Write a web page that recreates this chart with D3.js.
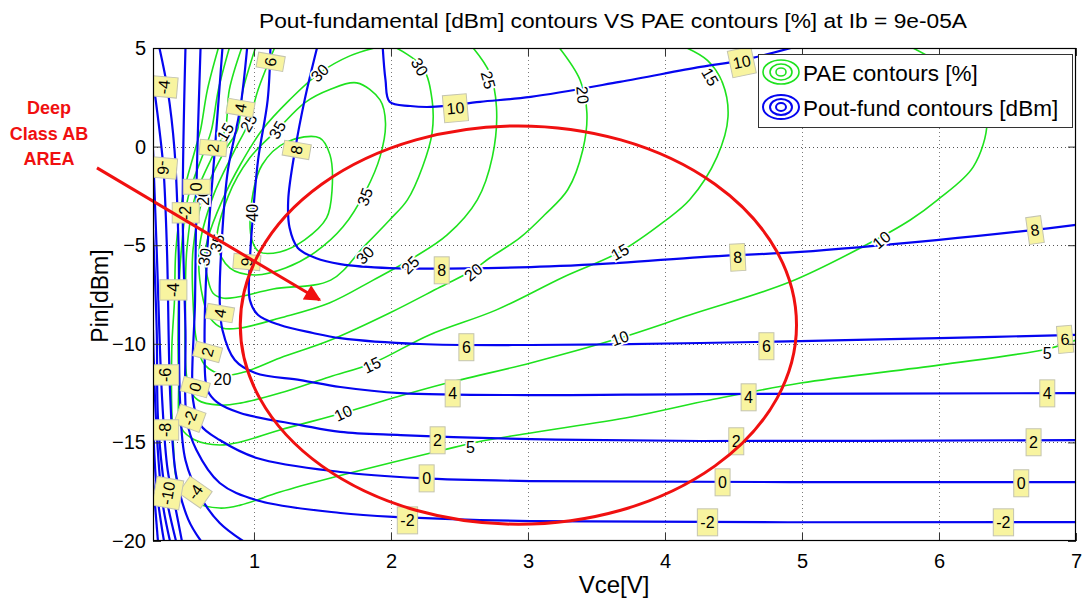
<!DOCTYPE html>
<html><head><meta charset="utf-8">
<script src="https://cdn.jsdelivr.net/npm/d3@7"></script>
<style>
body{margin:0;background:#fff}
text{font-family:"Liberation Sans",Arial,Helvetica,sans-serif}
</style>
</head><body>
<svg id="chart" width="1084" height="604"></svg>
<script>
// ---------- axes / ticks ----------
const xDomain=[0.263,7];
const yDomain=[-20,5];
const xTicks=[1,2,3,4,5,6,7];
const yTicks=[-20,-15,-10,-5,0,5];
const titleText="Pout-fundamental [dBm] contours VS PAE contours [%] at Ib = 9e-05A";
const xLabel="Vce[V]";
const yLabel="Pin[dBm]";
const legendItems=["PAE contours [%]","Pout-fund contours [dBm]"];

// ---------- Pout-fundamental contours [dBm]  (Vce, Pin) ----------
const pout10=[[1.94,5.0],[1.96,3.38],[1.99,2.27],[2.14,2.06],[2.29,2.01],[2.65,2.27],[3.02,2.52],[3.67,3.28],[4.26,4.04],[4.56,4.37],[4.92,5.0]];
const pout8=[[1.46,5.0],[1.37,2.37],[1.30,-0.17],[1.25,-2.70],[1.26,-4.12],[1.32,-5.14],[1.45,-5.65],[1.63,-5.96],[1.99,-6.16],[3.02,-6.11],[3.67,-5.90],[4.26,-5.60],[4.99,-5.34],[6.0,-4.73],[6.70,-4.22],[7.0,-3.97]];
const pout6=[[1.12,5.0],[1.10,2.37],[1.03,-0.67],[0.99,-3.72],[0.97,-5.85],[0.97,-7.78],[1.03,-8.54],[1.19,-9.05],[1.43,-9.45],[1.63,-9.71],[2.21,-10.01],[3.02,-10.06],[4.26,-9.96],[4.99,-9.86],[6.0,-9.71],[7.0,-9.55]];
const pout4=[[0.95,5.0],[0.90,1.96],[0.81,-1.18],[0.77,-4.22],[0.75,-7.78],[0.77,-9.30],[0.86,-10.82],[1.01,-11.48],[1.34,-11.84],[1.63,-12.19],[2.07,-12.50],[3.02,-12.60],[4.26,-12.55],[7.0,-12.50]];
const pout2=[[0.77,5.0],[0.72,0.34],[0.66,-5.24],[0.64,-10.30],[0.66,-12.34],[0.73,-12.96],[0.90,-13.51],[1.34,-14.12],[1.63,-14.47],[2.07,-14.63],[3.02,-14.83],[4.26,-14.93],[7.0,-14.88]];
const pout0=[[0.61,5.0],[0.58,-2.04],[0.57,-7.78],[0.555,-12.85],[0.61,-14.12],[0.75,-14.88],[1.02,-15.79],[1.63,-16.50],[2.21,-16.81],[3.02,-16.96],[7.0,-17.01]];
const poutM2=[[0.50,5.0],[0.48,-3.36],[0.50,-9.30],[0.51,-13.87],[0.58,-15.39],[0.75,-17.06],[1.02,-17.93],[1.63,-18.58],[2.07,-18.79],[3.02,-18.99],[7.0,-19.04]];
const poutM4=[[0.31,5.0],[0.37,2.88],[0.42,-0.17],[0.45,-5.24],[0.46,-12.85],[0.50,-15.90],[0.61,-17.77],[0.75,-19.09],[0.92,-20.0]];
const poutM6=[[0.263,3.38],[0.31,0.85],[0.34,-1.18],[0.365,-5.24],[0.39,-12.85],[0.43,-16.6],[0.52,-18.9],[0.613,-20.0]];
const poutM8=[[0.263,-0.17],[0.29,-5.24],[0.33,-12.85],[0.37,-16.4],[0.43,-18.43],[0.474,-20.0]];
const poutM10=[[0.263,-4.22],[0.29,-9.3],[0.30,-13.87],[0.35,-17.4],[0.431,-20.0]];
const poutM12=[[0.263,-9.3],[0.285,-13.87],[0.33,-17.93],[0.387,-20.0]];
const poutM14=[[0.263,-13.87],[0.29,-17.4],[0.343,-20.0]];
const poutM16=[[0.263,-16.9],[0.299,-20.0]];

// ---------- PAE contours [%]  (Vce, Pin) ----------
const pae5=[[7.0,-9.81],[6.79,-10.26],[6.01,-11.07],[4.99,-11.99],[4.33,-12.85],[3.75,-13.71],[3.02,-14.52],[2.63,-14.98],[2.38,-15.39],[1.56,-16.81],[1.19,-17.52],[0.90,-18.18],[0.75,-18.33],[0.57,-18.03],[0.45,-17.16],[0.41,-14.88],[0.40,-10.30],[0.42,-7.78],[0.43,-5.24],[0.48,-2.55],[0.57,-0.17],[0.61,0.85],[0.66,2.88],[0.74,5.0]];
const pae10=[[5.81,5.0],[6.08,3.89],[6.30,2.37],[6.35,1.20],[6.25,-1.03],[5.99,-2.70],[5.79,-3.72],[5.47,-4.98],[4.91,-6.87],[4.18,-8.54],[3.67,-9.71],[3.02,-10.97],[2.41,-11.99],[2.04,-12.70],[1.65,-13.51],[1.19,-14.37],[0.90,-14.98],[0.75,-15.13],[0.57,-14.88],[0.47,-14.27],[0.45,-11.84],[0.45,-7.78],[0.47,-5.24],[0.52,-2.55],[0.64,-0.17],[0.69,0.85],[0.74,2.88],[0.82,5.0]];
const pae15=[[4.16,5.0],[4.31,4.37],[4.42,3.23],[4.46,1.51],[4.38,-0.52],[4.18,-2.70],[3.99,-3.82],[3.67,-5.34],[3.26,-6.61],[2.77,-8.28],[2.28,-9.55],[1.87,-10.97],[1.55,-11.68],[1.19,-12.50],[0.90,-13.01],[0.75,-13.11],[0.59,-12.85],[0.52,-12.09],[0.50,-7.78],[0.51,-5.24],[0.57,-2.55],[0.72,-0.17],[0.79,0.85],[0.82,2.88],[0.91,5.0]];
const pae20=[[3.23,5.0],[3.38,3.38],[3.43,1.71],[3.40,-0.17],[3.29,-2.19],[3.12,-3.47],[2.94,-4.63],[2.72,-5.65],[2.60,-6.26],[2.36,-7.12],[1.99,-8.44],[1.56,-9.81],[1.19,-10.72],[0.93,-11.43],[0.79,-11.58],[0.64,-11.07],[0.58,-9.81],[0.555,-7.78],[0.555,-5.24],[0.63,-2.55],[0.79,-0.17],[0.88,0.85],[0.92,2.88],[1.01,5.0]];
const pae25=[[2.60,5.0],[2.72,3.74],[2.77,2.01],[2.74,-0.52],[2.63,-2.70],[2.41,-4.48],[2.16,-5.65],[1.87,-6.77],[1.55,-7.93],[1.19,-8.69],[0.90,-9.20],[0.77,-9.20],[0.68,-8.69],[0.63,-7.78],[0.60,-5.24],[0.70,-2.55],[0.86,-0.17],[0.96,1.20],[1.03,2.88],[1.15,5.0]];
const pae30=[[1.88,5.0],[1.70,4.60],[1.48,3.74],[1.26,2.37],[1.06,0.85],[0.90,-0.92],[0.77,-2.70],[0.66,-4.73],[0.64,-5.60],[0.66,-6.61],[0.70,-7.42],[0.77,-7.68],[0.88,-7.63],[1.14,-7.22],[1.56,-6.77],[1.80,-5.09],[1.99,-3.72],[2.12,-2.70],[2.23,-1.03],[2.30,0.70],[2.30,2.37],[2.23,4.04],[2.04,5.0]];
const pae35=[[0.73,-4.89],[0.81,-2.55],[0.97,-0.57],[1.17,0.85],[1.37,2.22],[1.55,2.88],[1.75,3.23],[1.92,2.37],[1.96,1.20],[1.92,-0.52],[1.82,-2.19],[1.65,-4.07],[1.45,-5.34],[1.23,-6.16],[1.01,-6.51],[0.825,-6.16]];
const pae40=[[0.985,-4.73],[0.985,-2.70],[1.06,-0.92],[1.24,0.24],[1.48,0.44],[1.555,-0.42],[1.57,-2.19],[1.53,-3.62],[1.37,-4.73],[1.19,-5.34],[1.04,-5.34]];

// contour labels: [Vce, Pin, text, angle]
const poutLabels=[
[2.47,1.96,"10",-5],[4.56,4.30,"10",-12],
[2.37,-6.26,"8",0],[4.53,-5.60,"8",-3],[6.70,-4.22,"8",-8],[1.31,-0.17,"8",-80],
[2.55,-10.16,"6",0],[4.74,-10.11,"6",0],[6.92,-9.76,"6",-5],[1.12,4.30,"6",-80],[0.95,-5.85,"6",95],
[2.45,-12.50,"4",0],[4.61,-12.70,"4",0],[6.79,-12.50,"4",0],[0.90,1.96,"4",-80],[0.75,-8.44,"4",-80],
[2.34,-14.88,"2",0],[4.52,-14.93,"2",0],[6.69,-14.98,"2",0],[0.70,-0.07,"2",-85],[0.66,-10.41,"2",-75],
[2.26,-16.81,"0",0],[4.42,-17.01,"0",0],[6.60,-17.06,"0",0],[0.58,-2.04,"0",-90],[0.57,-12.19,"0",-75],
[2.12,-18.94,"-2",0],[4.31,-19.04,"-2",0],[6.47,-19.04,"-2",0],[0.50,-3.36,"-2",-90],[0.53,-13.77,"-2",-70],
[0.34,3.03,"-4",-85],[0.41,-7.27,"-4",-90],[0.57,-17.52,"-4",-55],
[0.34,-1.08,"-6",95],[0.35,-11.58,"-6",-90],[0.35,-14.37,"-8",-90],[0.37,-17.57,"-10",-80]
];
const paeLabels=[
[2.21,4.04,"30",60],[2.71,3.38,"25",75],[3.40,2.62,"20",85],[4.33,3.54,"15",60],
[1.81,-2.55,"35",-70],[1.81,-5.50,"30",-45],[2.14,-6.00,"25",-45],[2.60,-6.36,"20",-40],[3.67,-5.34,"15",-30],[5.58,-4.73,"10",-40],
[1.86,-11.07,"15",-25],[1.65,-13.51,"10",-25],[3.67,-9.71,"10",-20],[2.58,-15.24,"5",0],[6.79,-10.47,"5",0],
[0.77,-11.79,"20",0],[0.99,-3.36,"40",-90],[1.17,0.85,"35",-60],[0.96,1.20,"25",-60],[0.79,0.75,"15",-60],
[1.48,3.74,"30",-45],[0.73,-4.89,"35",-75],[0.64,-5.60,"30",-80],[0.63,-2.55,"20",-90]
];

// annotation (data units)
const areaCenter=[2.93,-9.05];
const areaRadii=[2.03,10.1];
const arrowFrom=[-0.146,-1.08];
const arrowTo=[1.48,-7.78];
const annotationLines=["Deep","Class AB","AREA"];

const poutOpen=[pout10,pout8,pout6,pout4,pout2,pout0,poutM2,poutM4,poutM6,poutM8,poutM10,poutM12,poutM14,poutM16];
const paeOpen=[pae5,pae10,pae15,pae20,pae25,pae30];
const paeClosed=[pae35,pae40];

// ---------- drawing ----------
const W=1084,H=604,L=153,R=1076,T=48,B=541;
const BLUE="#0505f0",GREEN="#1ee21e",RED="#f01010";
const svg=d3.select("#chart");
const x=d3.scaleLinear().domain(xDomain).range([L,R]);
const y=d3.scaleLinear().domain(yDomain).range([B,T]);

svg.append("rect").attr("width",W).attr("height",H).attr("fill","#fff");
const defs=svg.append("defs");
defs.append("clipPath").attr("id","clip").append("rect").attr("x",L).attr("y",T).attr("width",R-L).attr("height",B-T);
defs.append("marker").attr("id","arrow").attr("viewBox","0 0 10 10").attr("refX",9).attr("refY",5)
  .attr("markerWidth",7).attr("markerHeight",5.5).attr("orient","auto").attr("markerUnits","strokeWidth")
  .append("path").attr("d","M0,0 L10,5 L0,10 z").attr("fill",RED);

// grid
const grid=svg.append("g").attr("shape-rendering","crispEdges");
grid.selectAll("line.gx").data(xTicks.filter(v=>v<xDomain[1])).join("line").attr("class","gx")
  .attr("x1",d=>Math.round(x(d))+0.5).attr("x2",d=>Math.round(x(d))+0.5).attr("y1",T).attr("y2",B)
  .attr("stroke","#7a7a7a").attr("stroke-dasharray","1,3");
grid.selectAll("line.gy").data(yTicks.filter(v=>v>yDomain[0]&&v<yDomain[1])).join("line").attr("class","gy")
  .attr("y1",d=>Math.round(y(d))+0.5).attr("y2",d=>Math.round(y(d))+0.5).attr("x1",L).attr("x2",R)
  .attr("stroke","#555").attr("stroke-dasharray","1,3");

const plot=svg.append("g").attr("clip-path","url(#clip)");
const line=d3.line().x(d=>x(d[0])).y(d=>y(d[1])).curve(d3.curveCatmullRom.alpha(0.5));
const lineC=d3.line().x(d=>x(d[0])).y(d=>y(d[1])).curve(d3.curveCatmullRomClosed.alpha(0.5));

plot.selectAll("path.pae").data(paeOpen).join("path").attr("class","pae").attr("d",line)
  .attr("fill","none").attr("stroke",GREEN).attr("stroke-width",1.6);
plot.selectAll("path.paec").data(paeClosed).join("path").attr("class","paec").attr("d",lineC)
  .attr("fill","none").attr("stroke",GREEN).attr("stroke-width",1.6);
plot.selectAll("path.pout").data(poutOpen).join("path").attr("class","pout").attr("d",line)
  .attr("fill","none").attr("stroke",BLUE).attr("stroke-width",2.2);

// PAE inline labels
plot.selectAll("text.pl").data(paeLabels).join("text").attr("class","pl")
  .attr("transform",d=>`translate(${x(d[0])},${y(d[1])}) rotate(${d[3]})`)
  .attr("text-anchor","middle").attr("dy","0.36em").attr("font-size",16)
  .attr("paint-order","stroke").attr("stroke","#fff").attr("stroke-width",3.5).attr("fill","#000")
  .text(d=>d[2]);

// Pout boxed labels
poutLabels.forEach(d=>{
  const g=plot.append("g").attr("transform",`translate(${x(d[0])},${y(d[1])}) rotate(${d[3]})`);
  const t=g.append("text").attr("text-anchor","middle").attr("dy","0.36em").attr("font-size",16).attr("fill","#000").text(d[2]);
  const bb=t.node().getBBox();
  g.insert("rect","text").attr("x",bb.x-3).attr("y",bb.y-5).attr("width",bb.width+6).attr("height",bb.height+10)
    .attr("fill","#f8f4a0").attr("stroke","#c4c4b0").attr("stroke-width",1);
});

// red annotation
svg.append("ellipse").attr("cx",x(areaCenter[0])).attr("cy",y(areaCenter[1]))
  .attr("rx",x(areaCenter[0]+areaRadii[0])-x(areaCenter[0]))
  .attr("ry",y(areaCenter[1])-y(areaCenter[1]+areaRadii[1]))
  .attr("fill","none").attr("stroke",RED).attr("stroke-width",3);
svg.append("line").attr("x1",x(arrowFrom[0])).attr("y1",y(arrowFrom[1])).attr("x2",x(arrowTo[0])).attr("y2",y(arrowTo[1]))
  .attr("stroke",RED).attr("stroke-width",3).attr("marker-end","url(#arrow)");
svg.append("g").selectAll("text").data(annotationLines).join("text")
  .attr("x",49).attr("y",(d,i)=>114+i*25.5).attr("text-anchor","middle")
  .attr("font-size",18).attr("font-weight","bold").attr("fill",RED).text(d=>d);

// axes (ticks inside)
function styleAxis(g){
  g.select(".domain").remove();
  g.selectAll(".tick line").attr("stroke","#333");
  g.selectAll(".tick text").attr("font-size",20).attr("fill","#000").attr("font-family",'"Liberation Sans",Arial,sans-serif');
}
svg.append("g").attr("transform",`translate(0,${B})`)
  .call(d3.axisBottom(x).tickValues(xTicks).tickSize(-8).tickPadding(13).tickFormat(d3.format("d"))).call(styleAxis);
svg.append("g").attr("transform",`translate(0,${T})`)
  .call(d3.axisTop(x).tickValues(xTicks).tickSize(-8).tickFormat("")).call(styleAxis);
svg.append("g").attr("transform",`translate(${L},0)`)
  .call(d3.axisLeft(y).tickValues(yTicks).tickSize(-8).tickPadding(7).tickFormat(d3.format("d"))).call(styleAxis);
svg.append("g").attr("transform",`translate(${R},0)`)
  .call(d3.axisRight(y).tickValues(yTicks).tickSize(-8).tickFormat("")).call(styleAxis);
svg.append("rect").attr("x",L+0.5).attr("y",T+0.5).attr("width",R-L-1).attr("height",B-T-1)
  .attr("fill","none").attr("stroke","#000").attr("stroke-width",1.2);

// legend
const lg=svg.append("g");
lg.append("rect").attr("x",758.5).attr("y",54.5).attr("width",314).attr("height",73)
  .attr("fill","#fff").attr("stroke","#333").attr("stroke-width",1);
[GREEN,BLUE].forEach((c,i)=>{
  const cy=72+i*35;
  [[18,12],[11,8],[5,4]].forEach(r=>{
    lg.append("ellipse").attr("cx",781).attr("cy",cy).attr("rx",r[0]).attr("ry",r[1])
      .attr("fill","none").attr("stroke",c).attr("stroke-width",i?2:1.6);
  });
  lg.append("text").attr("x",803).attr("y",cy+8.5).attr("font-size",22.5).attr("fill","#000").text(legendItems[i]);
});

// titles
svg.append("text").attr("x",613).attr("y",28).attr("text-anchor","middle").attr("font-size",20.5)
  .attr("textLength",708).attr("lengthAdjust","spacingAndGlyphs").attr("fill","#000").text(titleText);
svg.append("text").attr("x",614).attr("y",593).attr("text-anchor","middle").attr("font-size",24).attr("fill","#000").text(xLabel);
svg.append("text").attr("transform","translate(108,296) rotate(-90)").attr("text-anchor","middle").attr("font-size",23).attr("fill","#000").text(yLabel);
</script>
</body></html>
